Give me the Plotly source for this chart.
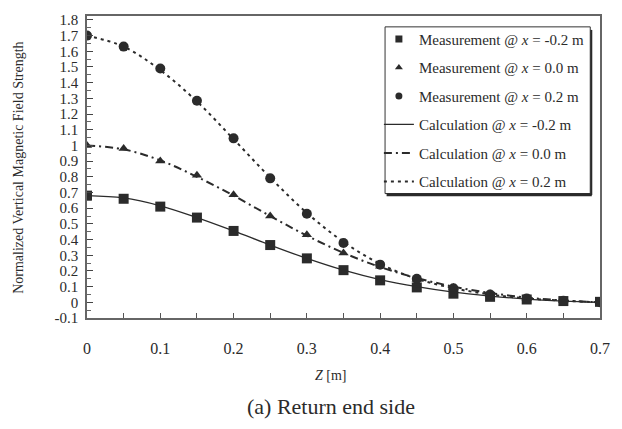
import plotly.graph_objects as go

z = [0.0, 0.05, 0.1, 0.15, 0.2, 0.25, 0.3, 0.35, 0.4, 0.45, 0.5, 0.55, 0.6, 0.65, 0.7]

meas_m02 = [0.68, 0.66, 0.61, 0.54, 0.455, 0.365, 0.28, 0.205, 0.14, 0.095, 0.055, 0.035, 0.018, 0.008, 0.003]
meas_00 = [1.00, 0.98, 0.90, 0.81, 0.685, 0.55, 0.43, 0.315, 0.23, 0.145, 0.095, 0.055, 0.025, 0.012, 0.005]
meas_02 = [1.70, 1.63, 1.49, 1.285, 1.045, 0.79, 0.565, 0.378, 0.24, 0.15, 0.09, 0.05, 0.025, 0.01, 0.0]

calc_m02 = [0.68, 0.665, 0.615, 0.54, 0.455, 0.365, 0.28, 0.205, 0.145, 0.1, 0.065, 0.04, 0.02, 0.008, 0.0]
calc_00 = [1.00, 0.975, 0.905, 0.80, 0.68, 0.55, 0.425, 0.315, 0.225, 0.155, 0.1, 0.06, 0.03, 0.012, 0.0]
calc_02 = [1.70, 1.63, 1.48, 1.28, 1.04, 0.795, 0.57, 0.385, 0.245, 0.15, 0.09, 0.05, 0.025, 0.01, 0.0]

x_ticks = [0, 0.1, 0.2, 0.3, 0.4, 0.5, 0.6, 0.7]
y_ticks = [round(-0.1 + 0.1 * i, 1) for i in range(20)]
y_labels = ["0" if abs(v) < 1e-9 else ("1" if abs(v - 1) < 1e-9 else f"{v:g}") for v in y_ticks]

INK = "#2b2b2b"
SERIF = "Liberation Serif, Times New Roman, serif"

fig = go.Figure()

meas = [
    (meas_m02, "square", 10, 7, "Measurement @ <i>x</i> = -0.2 m"),
    (meas_00, "triangle-up", 9, 7, "Measurement @ <i>x</i> = 0.0 m"),
    (meas_02, "circle", 10, 7, "Measurement @ <i>x</i> = 0.2 m"),
]
for i, (vals, sym, sz, lsz, name) in enumerate(meas):
    fig.add_trace(go.Scatter(
        x=z, y=vals, mode="markers", name=name, showlegend=False,
        marker=dict(symbol=sym, size=sz, color=INK, line=dict(width=0)),
    ))
    # legend-only entry with a smaller symbol, as in the original legend
    fig.add_trace(go.Scatter(
        x=[None], y=[None], mode="markers", name=name,
        legendgroup=f"g{i}",
        marker=dict(symbol=sym, size=lsz, color=INK, line=dict(width=0)),
    ))

calcs = [
    (calc_m02, "solid", 1.3, "Calculation @ <i>x</i> = -0.2 m"),
    (calc_00, "8px,4px,2px,4px", 2, "Calculation @ <i>x</i> = 0.0 m"),
    (calc_02, "3px,4px", 2, "Calculation @ <i>x</i> = 0.2 m"),
]
for i, (vals, dash, w, name) in enumerate(calcs):
    fig.add_trace(go.Scatter(
        x=z, y=vals, mode="lines", name=name,
        legendgroup=f"h{i}",
        line=dict(color=INK, width=w, dash=dash, shape="spline", smoothing=1.0),
    ))

# legend frame (drawn as shapes so the drop shadow lines up)
LX0, LX1, LY0, LY1 = 0.581, 0.981, 0.412, 0.964
shapes = [
    dict(type="rect", xref="paper", yref="paper", x0=LX0, x1=LX1, y0=LY0, y1=LY1,
         line=dict(color="#333", width=1), fillcolor="white", layer="below"),
    dict(type="line", xref="paper", yref="paper", x0=LX0 + 0.003, x1=LX1 + 0.003, y0=LY0 - 0.004, y1=LY0 - 0.004,
         line=dict(color="#2a2a2a", width=3)),
    dict(type="line", xref="paper", yref="paper", x0=LX1 + 0.002, x1=LX1 + 0.002, y0=LY0 - 0.005, y1=LY1 - 0.01,
         line=dict(color="#2a2a2a", width=2)),
]

fig.update_layout(
    width=622, height=429,
    margin=dict(l=87, r=12, t=13, b=111),
    paper_bgcolor="white", plot_bgcolor="white",
    font=dict(family=SERIF, color=INK),
    showlegend=True,
    shapes=shapes,
    legend=dict(
        x=LX0 - 0.012, y=0.978, xanchor="left", yanchor="top",
        bgcolor="rgba(0,0,0,0)", borderwidth=0,
        font=dict(family=SERIF, size=15, color=INK),
        tracegroupgap=6, traceorder="grouped",
        itemwidth=30,
    ),
    xaxis=dict(
        range=[0, 0.7], tickvals=x_ticks, ticktext=[f"{v:g}" for v in x_ticks],
        ticks="inside", ticklen=5, tickwidth=1.2, tickcolor="#555",
        showline=True, mirror=True, linecolor="#666", linewidth=1.5,
        showgrid=False, zeroline=False,
        tickfont=dict(family=SERIF, size=16, color=INK),
        ticklabelstandoff=15,
        minor=dict(dtick=0.05, tick0=0, ticks="inside", ticklen=5, tickwidth=1.2, tickcolor="#555"),
    ),
    yaxis=dict(
        range=[-0.1, 1.825], tickvals=y_ticks, ticktext=y_labels,
        ticks="inside", ticklen=6, tickwidth=1.2, tickcolor="#444",
        showline=True, mirror=True, linecolor="#666", linewidth=1.5,
        showgrid=False, zeroline=False,
        tickfont=dict(family=SERIF, size=15, color=INK),
        ticklabelstandoff=4,
        minor=dict(dtick=0.05, tick0=-0.1, ticks="inside", ticklen=4, tickwidth=1, tickcolor="#666"),
    ),
    annotations=[
        dict(text="<i>Z</i> [m]", x=0.476, y=-0.19, xref="paper", yref="paper",
             showarrow=False, font=dict(family=SERIF, size=14, color=INK),
             xanchor="center", yanchor="middle"),
        dict(text="(a) Return end side", x=0.476, y=-0.292, xref="paper", yref="paper",
             showarrow=False, font=dict(family=SERIF, size=22, color=INK),
             xanchor="center", yanchor="middle"),
        dict(text="Normalized Vertical Magnetic Field Strength", x=-0.134, y=0.498,
             xref="paper", yref="paper", showarrow=False, textangle=-90,
             font=dict(family=SERIF, size=14, color=INK),
             xanchor="center", yanchor="middle"),
    ],
)

fig.write_html("out.html")
